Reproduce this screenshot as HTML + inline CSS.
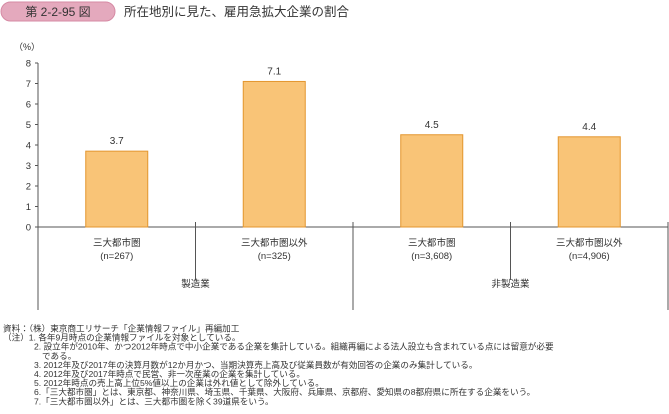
<!DOCTYPE html>
<html><head><meta charset="utf-8">
<style>
body{margin:0;background:#fff;}
svg text{font-family:"Liberation Sans","Noto Sans CJK JP",sans-serif;fill:#333;}
</style></head>
<body>
<svg id="chart" width="669" height="409" viewBox="0 0 669 409" xmlns="http://www.w3.org/2000/svg">
  <rect x="1" y="2" width="114" height="19" rx="9.5" fill="#e4a9bd" stroke="#d68aa4"/>
  <text x="58" y="16" font-size="12" text-anchor="middle" fill="#222">第 2-2-95 図</text>
  <text x="124" y="16" font-size="12.5" fill="#222">所在地別に見た、雇用急拡大企業の割合</text>
  <text x="14" y="50" font-size="9">（%）</text>
  <g id="axes"></g>
  <g id="bars"></g>
  <g id="notes" font-size="8.6">
    <text x="3" y="333">資料：（株）東京商工リサーチ「企業情報ファイル」再編加工</text>
    <text x="3" y="345">（注）1. 各年9月時点の企業情報ファイルを対象としている。</text>
    <text x="34" y="357">2. 設立年が2010年、かつ2012年時点で中小企業である企業を集計している。組織再編による法人設立も含まれている点には留意が必要</text>
    <text x="42" y="369">である。</text>
    <text x="34" y="381">3. 2012年及び2017年の決算月数が12か月かつ、当期決算売上高及び従業員数が有効回答の企業のみ集計している。</text>
    <text x="34" y="393">4. 2012年及び2017年時点で民営、非一次産業の企業を集計している。</text>
    <text x="34" y="405">5. 2012年時点の売上高上位5%値以上の企業は外れ値として除外している。</text>
  </g>
</svg>
<script>
const categories = ["三大都市圏","三大都市圏以外","三大都市圏","三大都市圏以外"];
const sampleLabels = ["(n=267)","(n=325)","(n=3,608)","(n=4,906)"];
const values = [3.7, 7.1, 4.5, 4.4];
const groups = ["製造業","非製造業"];
const yTicks = [0,1,2,3,4,5,6,7,8];

const NS="http://www.w3.org/2000/svg";
const x0=38, x1=668, yBase=227, yTop=63, yMax=8;
const catW=(x1-x0)/categories.length;
function yScale(v){return yBase-(v/yMax)*(yBase-yTop);}
function xCenter(i){return x0+catW*(i+0.5);}
function mk(tag,attrs,parent){const e=document.createElementNS(NS,tag);for(const k in attrs)e.setAttribute(k,attrs[k]);parent.appendChild(e);return e;}
const axes=document.getElementById('axes'), bars=document.getElementById('bars');
const notes=document.getElementById('notes');

const yAxis=mk('line',{x1:x0,y1:yTop,x2:x0,y2:310,stroke:'#555','stroke-width':1},axes);


const xAxis=mk('line',{x1:x0,y1:yBase,x2:x1,y2:yBase,stroke:'#555','stroke-width':1},axes);



yTicks.forEach(t=>{
  const y=yScale(t);
  const tk=mk('line',{x1:x0-3,y1:y,x2:x0,y2:y,stroke:'#555'},axes);
  
  
  const tl=mk('text',{x:x0-7,y:y+3.5,'font-size':9.5,'text-anchor':'end'},axes);
  tl.textContent=t;
  
  
});

for(let i=1;i<=categories.length;i++){
  const x=x0+catW*i;
  const full=(i%2===0);
  const d=mk('line',{x1:x,y1:yBase-5,x2:x,y2:full?310:280,stroke:'#555'},axes);
  
  
}

values.forEach((v,i)=>{
  const cx=xCenter(i), w=62, y=yScale(v);
  const r=mk('rect',{x:cx-w/2,y:y,width:w,height:yBase-y,fill:'#f9c477',stroke:'#e3962f','stroke-width':1},bars);
  
  
  const lb=mk('text',{x:cx,y:y-7,'font-size':10,'text-anchor':'middle',fill:'#222'},bars);
  lb.textContent=v.toFixed(1);
  
  
  const c=mk('text',{x:cx,y:246,'font-size':9.5,'text-anchor':'middle'},axes);
  c.textContent=categories[i];
  
  
  const n=mk('text',{x:cx,y:259,'font-size':9.5,'text-anchor':'middle'},axes);
  n.textContent=sampleLabels[i];
  
  
});

groups.forEach((g,i)=>{
  const cx=x0+catW*2*(i+0.5);
  const t=mk('text',{x:cx,y:287,'font-size':9.5,'text-anchor':'middle'},axes);
  t.textContent=g;
  
  
});

const lines=notes.querySelectorAll('text');
const startY=331.5, step=9.1;
lines.forEach((t,i)=>t.setAttribute('y',(startY+i*step).toFixed(1)));
const n6=mk('text',{x:34,y:(startY+7*step).toFixed(1)},notes);
n6.textContent='6.「三大都市圏」とは、東京都、神奈川県、埼玉県、千葉県、大阪府、兵庫県、京都府、愛知県の8都府県に所在する企業をいう。';


const n7=mk('text',{x:34,y:(startY+8*step).toFixed(1)},notes);
n7.textContent='7.「三大都市圏以外」とは、三大都市圏を除く39道県をいう。';


</script>
</body></html>
